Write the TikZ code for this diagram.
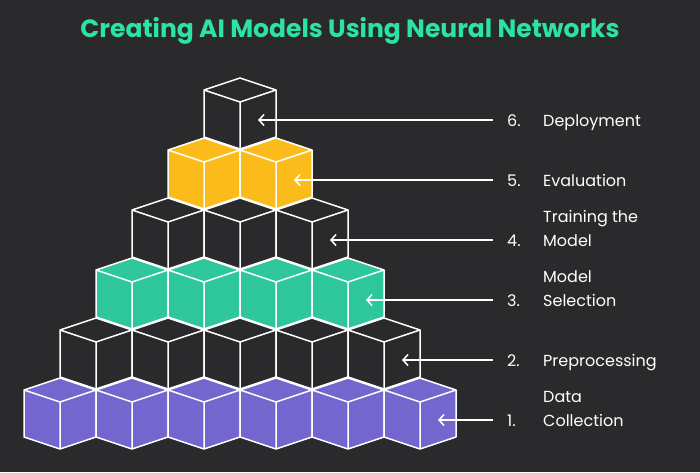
\documentclass[tikz,border=0pt]{standalone}
\usepackage{fontspec}
\setmainfont{Poppins}
\usetikzlibrary{arrows.meta}
\definecolor{bg}{HTML}{2A292B}
\definecolor{pur}{HTML}{7466CF}
\definecolor{tea}{HTML}{2EC79B}
\definecolor{yel}{HTML}{FBBC1B}
\definecolor{ttl}{HTML}{2BE3A3}
\tikzset{cubeline/.style={draw=white,line width=1.5pt,line join=round},
 lbl/.style={text=white,font=\fontsize{16}{24}\selectfont,anchor=west,inner sep=0pt,align=left},
 arr/.style={draw=white,line width=1.5pt,-{Straight Barb[length=5pt,width=11pt]}}}
\newcommand\mycube[3]{% x0, ytop, colour
 \fill[#3] (#1,#2+12) -- (#1+36,#2) -- (#1+72,#2+12) -- (#1+72,#2+59) -- (#1+36,#2+71) -- (#1,#2+59) -- cycle;
 \draw[cubeline] (#1,#2+12) -- (#1+36,#2) -- (#1+72,#2+12) -- (#1+72,#2+59) -- (#1+36,#2+71) -- (#1,#2+59) -- cycle;
 \draw[cubeline] (#1,#2+12) -- (#1+36,#2+24) -- (#1+72,#2+12) (#1+36,#2+24) -- (#1+36,#2+71);}
\begin{document}
\begin{tikzpicture}[x=1pt,y=-1pt]
\fill[bg] (0,0) rectangle (700,472);
\useasboundingbox (0,0) rectangle (700,472);
\node[text=ttl,font=\fontsize{25}{30}\selectfont\bfseries] (title) at (350,31) {Creating AI Models Using Neural Networks};
\foreach \r/\c in {6/bg,5/yel,4/bg,3/tea,2/bg,1/pur}{
  \pgfmathtruncatemacro\n{7-\r}
  \foreach \i in {1,...,\n}{
    \pgfmathsetmacro\xo{24+36*(\r-1)+72*(\i-1)}
    \pgfmathsetmacro\yo{378-60*(\r-1)}
    \mycube{\xo}{\yo}{\c}
  }
}
\foreach \r/\txt in {6/Deployment,5/Evaluation,4/{Training the\\Model},3/{Model\\Selection},2/Preprocessing,1/{Data\\Collection}}{
  \pgfmathsetmacro\xt{438-36*(\r-1)}
  \pgfmathsetmacro\yt{420-60*(\r-1)}
  \coordinate (t\r) at (\xt,\yt);
  \coordinate (s\r) at (493,\yt);
  \draw[arr] (s\r) -- (t\r);
  \node[lbl,anchor=base west] (n\r) at (507,\yt+6) {\r.};
  \node[lbl,anchor=base west] (l\r) at (543,\yt+6) {\txt};
}
\end{tikzpicture}
\end{document}
